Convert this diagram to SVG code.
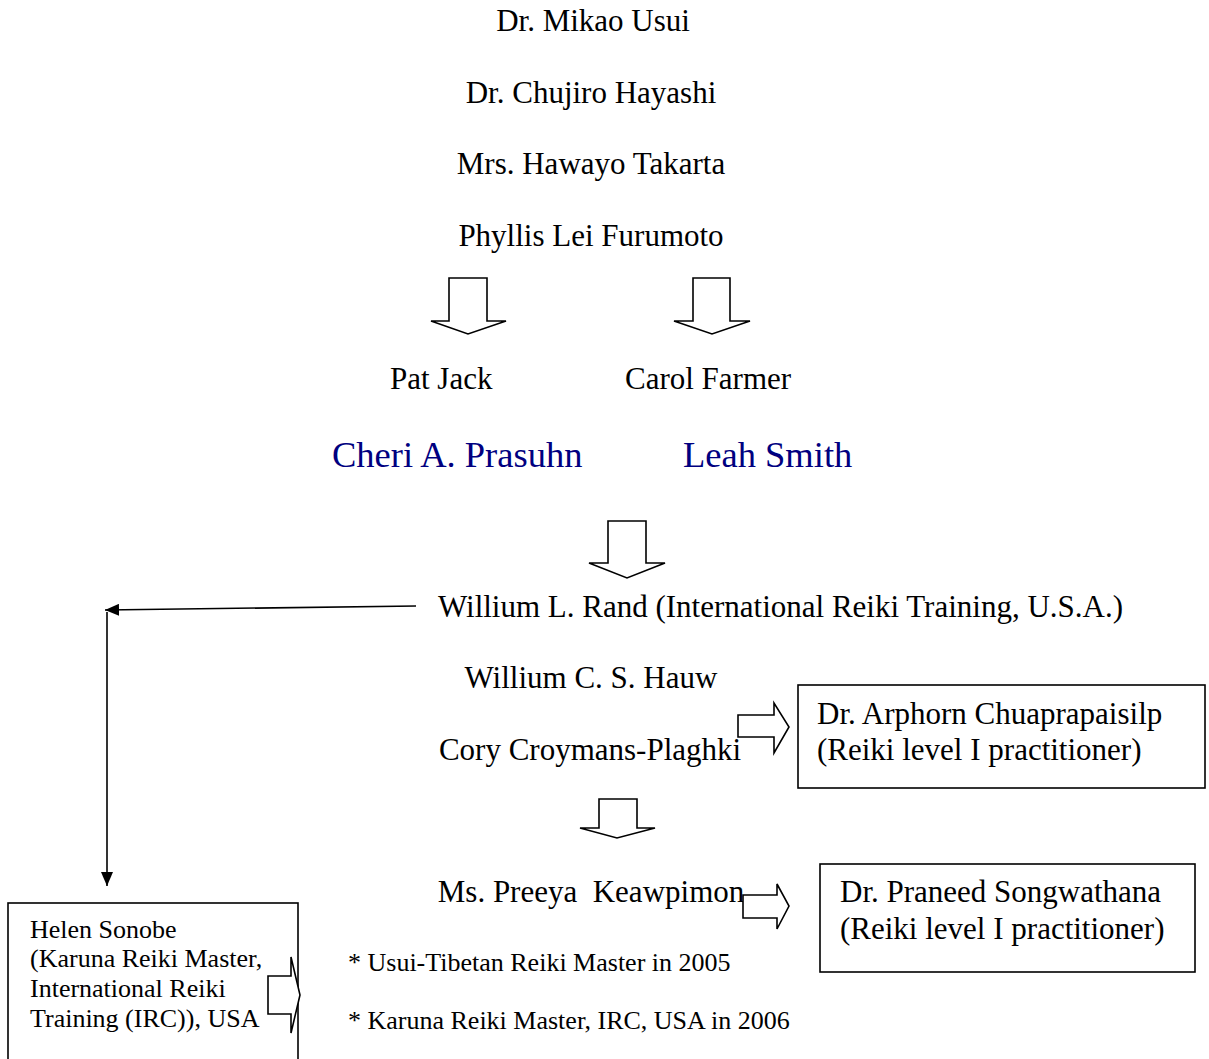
<svg xmlns="http://www.w3.org/2000/svg" width="1209" height="1059" viewBox="0 0 1209 1059">
  <style>
    text { font-family: "Liberation Serif", "Times New Roman", serif; fill: #000; }
    .main { font-size: 31px; }
    .mid { text-anchor: middle; }
    .blue { font-size: 36.5px; fill: #000080; }
    .note { font-size: 26px; }
    .box { font-size: 31px; }
    .helen { font-size: 26px; }
    .frame { fill: #fff; stroke: #000; stroke-width: 1.6; }
    .block { fill: #fff; stroke: #000; stroke-width: 1.6; stroke-linejoin: miter; }
    .link { fill: none; stroke: #000; stroke-width: 1.6; }
  </style>
  <defs>
    <marker id="head" viewBox="0 0 14 12" refX="14" refY="6" markerWidth="14" markerHeight="12" markerUnits="userSpaceOnUse" orient="auto">
      <path d="M0,0 L14,6 L0,12 Z" fill="#000"/>
    </marker>
  </defs>
  <rect width="1209" height="1059" fill="#fff"/>

  <!-- lineage names -->
  <g id="usui"><text class="main mid" x="593" y="31">Dr. Mikao Usui</text></g>
  <g id="hayashi"><text class="main mid" x="591" y="103">Dr. Chujiro Hayashi</text></g>
  <g id="takarta"><text class="main mid" x="591" y="174">Mrs. Hawayo Takarta</text></g>
  <g id="furumoto"><text class="main mid" x="591" y="246">Phyllis Lei Furumoto</text></g>
  <g id="pat-jack"><text class="main" x="390" y="389">Pat Jack</text></g>
  <g id="carol-farmer"><text class="main" x="625" y="389">Carol Farmer</text></g>
  <g id="prasuhn"><text class="blue" x="332" y="467">Cheri A. Prasuhn</text></g>
  <g id="leah-smith"><text class="blue" x="683" y="467">Leah Smith</text></g>
  <g id="rand"><text class="main" x="438" y="617">Willium L. Rand (International Reiki Training, U.S.A.)</text></g>
  <g id="hauw"><text class="main mid" x="591" y="688">Willium C. S. Hauw</text></g>
  <g id="croymans"><text class="main mid" x="590" y="760">Cory Croymans-Plaghki</text></g>
  <g id="preeya">
    <text class="main mid" x="591" y="902" style="white-space:pre">Ms. Preeya  Keawpimon</text>
    <text class="note" x="348" y="971">* Usui-Tibetan Reiki Master in 2005</text>
    <text class="note" x="348" y="1029">* Karuna Reiki Master, IRC, USA in 2006</text>
  </g>

  <!-- boxed practitioners -->
  <g id="arphorn">
    <rect class="frame" x="798" y="685" width="407" height="103"/>
    <text class="box" x="817" y="724">Dr. Arphorn Chuaprapaisilp</text>
    <text class="box" x="817" y="760">(Reiki level I practitioner)</text>
  </g>
  <g id="praneed">
    <rect class="frame" x="820" y="864" width="375" height="108"/>
    <text class="box" x="840" y="902">Dr. Praneed Songwathana</text>
    <text class="box" x="840" y="939">(Reiki level I practitioner)</text>
  </g>
  <g id="sonobe">
    <rect class="frame" x="8" y="903" width="290" height="170"/>
    <text class="helen" x="30" y="938">Helen Sonobe</text>
    <text class="helen" x="30" y="967">(Karuna Reiki Master,</text>
    <text class="helen" x="30" y="997">International Reiki</text>
    <text class="helen" x="30" y="1027">Training (IRC)), USA</text>
  </g>

  <!-- connectors -->
  <g id="connectors">
    <polygon class="block" points="449,278 487,278 487,321 506,321 468,334 431,321 449,321"/>
    <polygon class="block" points="693,278 730,278 730,321 750,321 712,334 674,321 693,321"/>
    <polygon class="block" points="608,521 646,521 646,563 665,563 627,578 589,563 608,563"/>
    <polygon class="block" points="599,799 637,799 637,828 655,828 617,838 580,828 599,828"/>
    <polygon class="block" points="738,715 774,715 774,703 789,727 774,753 774,737 738,737"/>
    <polygon class="block" points="743,895 777,895 777,884 789,906 777,929 777,918 743,918"/>
    <polygon class="block" points="268,976 291,976 291,957 300,995 291,1033 291,1014 268,1014"/>
    <line class="link" x1="416" y1="606" x2="105" y2="610" marker-end="url(#head)"/>
    <line class="link" x1="107" y1="612" x2="107" y2="886" marker-end="url(#head)"/>
  </g>
</svg>
